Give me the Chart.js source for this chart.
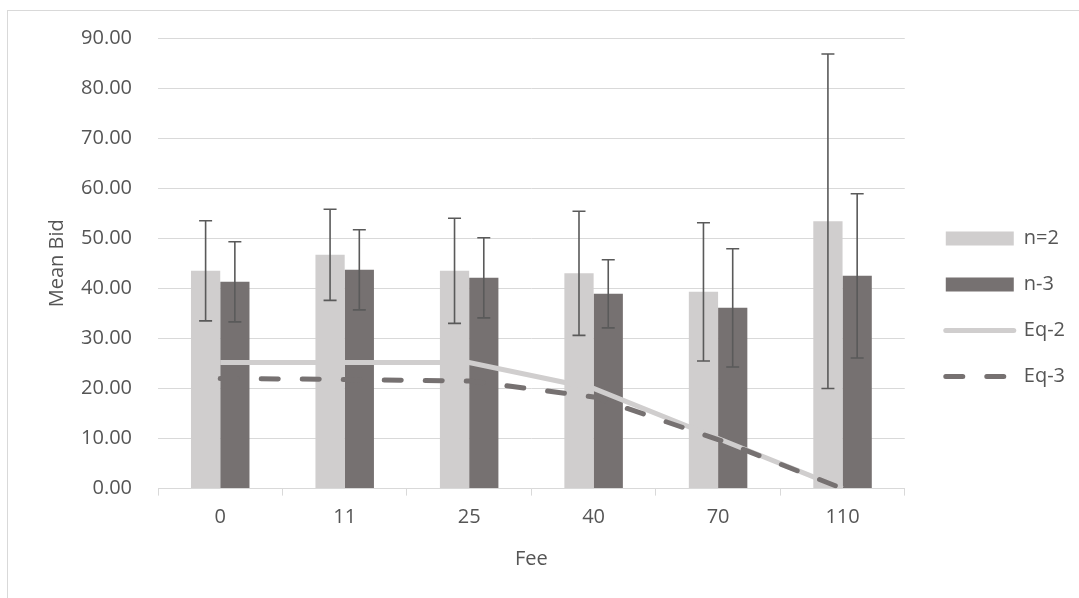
<!DOCTYPE html>
<html>
<head>
<meta charset="utf-8">
<script src="https://cdn.jsdelivr.net/npm/chart.js@4"></script>
<style>
  html, body { margin: 0; padding: 0; background: #fff; overflow: hidden; }
  #frame { position: absolute; left: 7px; top: 10px; width: 1100px; height: 600px; border: 1px solid #d9d9d9; }
  #myChart { position: absolute; left: 0; top: 0; }
</style>
</head>
<body>
<div id="frame"></div>
<canvas id="myChart" width="1079" height="598"></canvas>
<script>
// values
const fees = ['0', '11', '25', '40', '70', '110'];
const bidN2 = [43.5, 46.7, 43.5, 43.0, 39.3, 53.4];
const errN2 = [10.0, 9.1, 10.5, 12.4, 13.8, 33.4];
const bidN3 = [41.3, 43.7, 42.1, 38.9, 36.1, 42.5];
const errN3 = [8.0, 8.0, 8.0, 6.8, 11.8, 16.4];
const eq2 = [25.2, 25.2, 25.2, 20.0, 10.0, 0];
const eq3 = [22.0, 21.8, 21.5, 18.3, 9.8, 0];

const textColor = '#555555';
const gridColor = '#d9d9d9';
const fontFamily = "'Open Sans', sans-serif";

// whiskers for the bar series, placed with the chart's own y scale
const errorBars = {
  id: 'errorBars',
  afterDatasetsDraw(chart) {
    const ctx = chart.ctx;
    const yScale = chart.scales.y;
    chart.data.datasets.forEach((ds, di) => {
      if (!ds.errors) return;
      const meta = chart.getDatasetMeta(di);
      meta.data.forEach((bar, i) => {
        const top = yScale.getPixelForValue(ds.data[i] + ds.errors[i]);
        const bottom = yScale.getPixelForValue(ds.data[i] - ds.errors[i]);
        ctx.save();
        ctx.strokeStyle = '#5a5a5a';
        ctx.lineWidth = 1.6;
        ctx.beginPath();
        ctx.moveTo(bar.x, top);
        ctx.lineTo(bar.x, bottom);
        ctx.moveTo(bar.x - 6.5, top);
        ctx.lineTo(bar.x + 6.5, top);
        ctx.moveTo(bar.x - 6.5, bottom);
        ctx.lineTo(bar.x + 6.5, bottom);
        ctx.stroke();
        ctx.restore();
      });
    });
  }
};

Chart.defaults.font.family = fontFamily;
Chart.defaults.font.size = 20;
Chart.defaults.color = textColor;

const ctx = document.getElementById('myChart').getContext('2d');
const myChart = new Chart(ctx, {
  data: {
    labels: fees,
    datasets: [
      {
        type: 'bar',
        label: 'n=2',
        data: bidN2,
        errors: errN2,
        backgroundColor: '#d0cece',
        order: 3,
        barPercentage: 1,
        categoryPercentage: 0.47,
      },
      {
        type: 'bar',
        label: 'n-3',
        data: bidN3,
        errors: errN3,
        backgroundColor: '#767171',
        order: 3,
        barPercentage: 1,
        categoryPercentage: 0.47,
      },
      {
        type: 'line',
        label: 'Eq-2',
        data: eq2,
        borderColor: '#d0cece',
        backgroundColor: '#d0cece',
        borderWidth: 5,
        pointRadius: 0,
        tension: 0,
        order: 1,
      },
      {
        type: 'line',
        label: 'Eq-3',
        data: eq3,
        borderColor: '#767171',
        backgroundColor: '#767171',
        borderWidth: 5,
        borderDash: [17, 24],
        borderCapStyle: 'round',
        pointRadius: 0,
        tension: 0,
        order: 0,
      },
    ],
  },
  options: {
    responsive: false,
    animation: false,
    layout: { padding: { left: 8, top: 17, right: 4, bottom: 0 } },
    plugins: {
      tooltip: { enabled: false },
      legend: {
        position: 'right',
        labels: {
          usePointStyle: true,
          pointStyleWidth: 68,
          boxWidth: 68,
          boxHeight: 14,
          padding: 26,
          color: textColor,
          sort: (a, b) => a.datasetIndex - b.datasetIndex,
          generateLabels(chart) {
            const items = Chart.defaults.plugins.legend.labels.generateLabels(chart);
            items.forEach(it => {
              const ds = chart.data.datasets[it.datasetIndex];
              if (ds.type === 'line') {
                it.pointStyle = 'line';
                it.lineWidth = 5;
                it.strokeStyle = ds.borderColor;
                it.lineDash = ds.borderDash || [];
                it.lineCap = 'round';
              } else {
                it.pointStyle = 'rect';
                it.lineWidth = 0;
              }
            });
            return items;
          },
        },
      },
    },
    scales: {
      x: {
        grid: {
          drawOnChartArea: false,
          drawTicks: true,
          tickLength: 7,
          color: gridColor,
        },
        border: { color: gridColor },
        ticks: { padding: 10, color: textColor },
        title: {
          display: true,
          text: 'Fee',
          color: textColor,
          padding: { top: 7.4, bottom: 27 },
        },
      },
      y: {
        min: 0,
        max: 90,
        ticks: {
          stepSize: 10,
          padding: 26,
          color: textColor,
          callback: function (value) {
            return value.toFixed(2);
          },
        },
        grid: { color: gridColor, drawTicks: false },
        border: { display: false },
        title: {
          display: true,
          text: 'Mean Bid',
          color: textColor,
          padding: { top: 37, bottom: 0 },
        },
        afterFit(scale) {
          scale.width = 150;
        },
      },
      gapTop: {
        position: 'top',
        display: true,
        grid: { display: false },
        ticks: { display: false },
        border: { display: false },
        afterFit(scale) {
          scale.height = 21;
        },
      },
      gap: {
        position: 'right',
        display: true,
        grid: { display: false },
        ticks: { display: false },
        border: { display: false },
        afterFit(scale) {
          scale.width = 15;
        },
      },
    },
  },
  plugins: [errorBars],
});
</script>
</body>
</html>
